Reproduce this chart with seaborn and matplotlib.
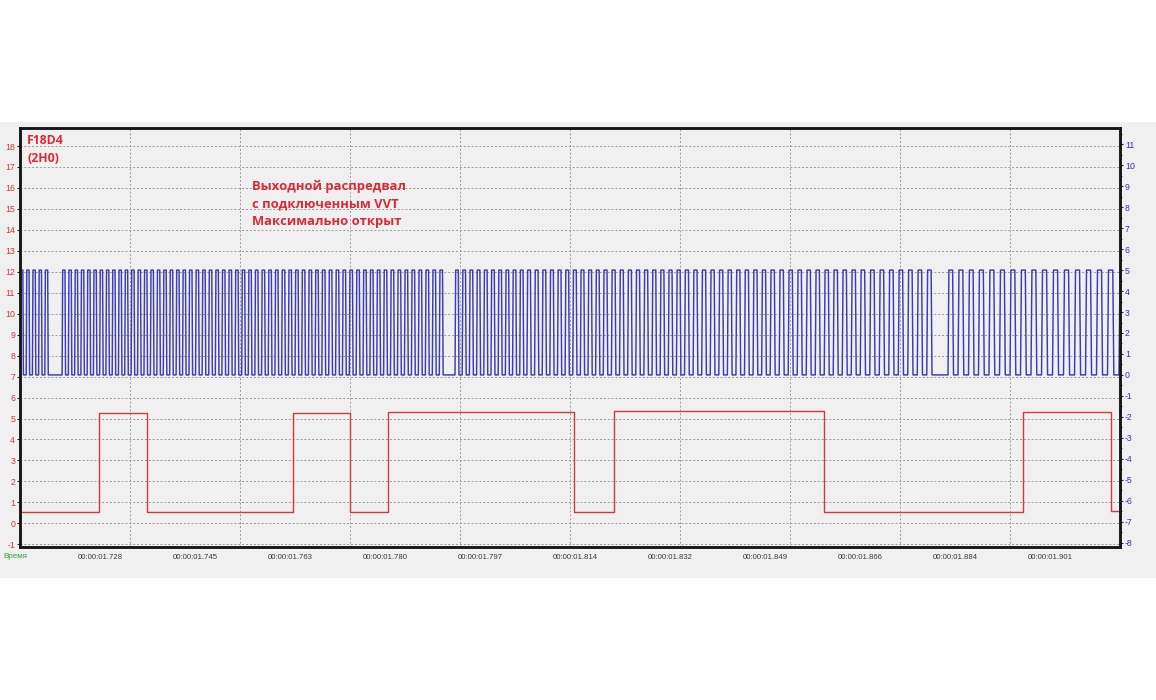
import numpy as np
import matplotlib
matplotlib.use("Agg")
import matplotlib.pyplot as plt
from matplotlib.patches import Rectangle
from matplotlib.ticker import FixedLocator
import seaborn as sns

# -------------------------------
# Data (time in ms)
# -------------------------------
x_start, x_end = 1713.43, 1913.75

tick_pos = [1728.0, 1745.3, 1762.6, 1779.9, 1797.2, 1814.5, 1831.8, 1849.1, 1866.4, 1883.7, 1901.0]
tick_labels = ["00:00:01.728", "00:00:01.745", "00:00:01.763", "00:00:01.780",
               "00:00:01.797", "00:00:01.814", "00:00:01.832", "00:00:01.849",
               "00:00:01.866", "00:00:01.884", "00:00:01.901"]

# crank signal: rising edge of every tooth, split at the missing-tooth gaps
blue_rises_1 = [1713.43, 1714.56, 1715.69, 1716.82, 1717.95]
blue_rises_2 = [1721.10, 1722.24, 1723.38, 1724.52, 1725.66, 1726.80, 1727.94, 1729.08, 1730.22, 1731.36,
                1732.50, 1733.67, 1734.84, 1736.01, 1737.18, 1738.35, 1739.52, 1740.69, 1741.86, 1743.03,
                1744.20, 1745.40, 1746.60, 1747.80, 1749.00, 1750.20, 1751.40, 1752.60, 1753.80, 1755.00,
                1756.20, 1757.42, 1758.64, 1759.86, 1761.08, 1762.30, 1763.52, 1764.74, 1765.96, 1767.18,
                1768.40, 1769.65, 1770.90, 1772.15, 1773.40, 1774.65, 1775.90, 1777.15, 1778.40, 1779.65,
                1780.90, 1782.17, 1783.44, 1784.71, 1785.98, 1787.25, 1788.52, 1789.79]
blue_rises_3 = [1792.65, 1793.96, 1795.27, 1796.58, 1797.89, 1799.20, 1800.51, 1801.82, 1803.13, 1804.44,
                1805.75, 1807.14, 1808.53, 1809.92, 1811.31, 1812.70, 1814.09, 1815.48, 1816.87, 1818.26,
                1819.65, 1821.13, 1822.61, 1824.09, 1825.57, 1827.05, 1828.53, 1830.01, 1831.49, 1832.97,
                1834.45, 1836.01, 1837.57, 1839.13, 1840.69, 1842.25, 1843.81, 1845.37, 1846.93, 1848.49,
                1850.05, 1851.69, 1853.33, 1854.97, 1856.61, 1858.25, 1859.89, 1861.53, 1863.17, 1864.81,
                1866.45, 1868.18, 1869.91, 1871.64, 1873.37, 1875.10, 1876.83, 1878.56]
blue_rises_4 = [1882.43, 1884.25, 1886.16, 1887.98, 1889.89, 1891.81, 1893.72, 1895.63, 1897.54,
                1899.46, 1901.46, 1903.46, 1905.47, 1907.47, 1909.47, 1911.47, 1913.57]
blue_low, blue_high = 0.0, 5.0

# cam signal: switching times and level of each stretch
red_edges = [1727.82, 1736.61, 1763.20, 1773.53, 1780.45, 1814.32, 1821.66, 1859.85, 1896.14, 1912.06]
red_levels = [0.55, 5.25, 0.55, 5.28, 0.55, 5.30, 0.55, 5.35, 0.55, 5.30, 0.58]

title_lines = ["F18D4", "(2H0)"]
note_lines = ["Выходной распредвал", "с подключенным VVT", "Максимально открыт"]

# -------------------------------
# Build the traces
# -------------------------------
def square_wave(rises):
    rises = np.asarray(rises)
    periods = np.diff(rises)
    periods = np.append(periods, periods[-1])
    t, v = [], []
    for r, p in zip(rises, periods):
        t += [r, r + 0.09 * p, r + 0.46 * p, r + 0.55 * p]
        v += [blue_low, blue_high, blue_high, blue_low]
    return t, v

blue_t, blue_v = [], []
for seg in [blue_rises_1, blue_rises_2, blue_rises_3, blue_rises_4]:
    t, v = square_wave(seg)
    blue_t += t
    blue_v += v

red_t, red_v = [x_start], [red_levels[0]]
for e, a, b in zip(red_edges, red_levels[:-1], red_levels[1:]):
    red_t += [e, e]
    red_v += [a, b]
red_t.append(x_end)
red_v.append(red_levels[-1])

# -------------------------------
# Figure
# -------------------------------
sns.set_style("white")
plt.rcParams["font.family"] = ["Liberation Sans", "DejaVu Sans"]
plt.rcParams["axes.unicode_minus"] = False

W, H = 1156, 700
fig = plt.figure(figsize=(W / 100, H / 100), dpi=100, facecolor="white")
fig.patches.append(Rectangle((0, 1 - 578 / H), 1, 456 / H, transform=fig.transFigure,
                             facecolor="#f0f0f0", edgecolor="none", zorder=-5))

ax = fig.add_axes([20 / W, 1 - 547 / H, 1100 / W, 419 / H])
ax.set_facecolor("#f0f0f0")
ax2 = ax.twinx()

sns.lineplot(x=red_t, y=red_v, ax=ax, color="#d03a3a", linewidth=1.0, estimator=None, sort=False)
sns.lineplot(x=blue_t, y=blue_v, ax=ax2, color="#3c3cb4", linewidth=1.05, estimator=None, sort=False)

ax.set_xlim(x_start, x_end)
ax.set_ylim(-1.13, 18.86)
ax2.set_ylim(-8.21, 11.78)

grid_style = dict(color="#9a9a9a", linewidth=0.7, linestyle=(0, (2, 2)))
for yv in range(-1, 19):
    ax.axhline(yv, zorder=0, **grid_style)
for xv in np.arange(x_start + 20.03, x_end, 20.03):
    ax.axvline(xv, zorder=0, **grid_style)

ax.set_xticks(tick_pos, tick_labels)
mids = [tick_pos[0] - 8.65] + [(a + b) / 2 for a, b in zip(tick_pos[:-1], tick_pos[1:])] + [tick_pos[-1] + 8.65]
ax.xaxis.set_minor_locator(FixedLocator(mids))
ax.tick_params(axis="x", which="major", direction="in", length=3, width=0.8,
               labelsize=5.6, labelcolor="#3a3a3a", pad=5)
ax.tick_params(axis="x", which="minor", direction="in", length=2, width=0.6)

ax.set_yticks(range(-1, 19))
ax.tick_params(axis="y", direction="out", length=2.5, width=0.8,
               labelsize=6.3, labelcolor="#d03a3a", pad=1)

ax2.set_yticks(range(-8, 12))
ax2.yaxis.set_minor_locator(FixedLocator(np.arange(-7.5, 11.6, 1.0)))
ax2.tick_params(axis="y", which="major", direction="out", length=2.5, width=0.8,
                labelsize=6.3, labelcolor="#3434b0", pad=1)
ax2.tick_params(axis="y", which="minor", direction="out", length=1.5, width=0.6)

for a in (ax, ax2):
    a.set_xlabel("")
    a.set_ylabel("")
    for s in a.spines.values():
        s.set_linewidth(1.8)
        s.set_color("#151515")

# -------------------------------
# Text
# -------------------------------
title_font = dict(family=["Open Sans", "DejaVu Sans"], fontweight="bold", fontsize=8.8, color="#dc2a35")
note_font = dict(family=["Open Sans", "DejaVu Sans"], fontweight="bold", fontsize=9.4, color="#dc2a35")
for i, line in enumerate(title_lines):
    fig.text(27 / W, 1 - (140 + 18 * i) / H, line, va="center", ha="left", **title_font)
for i, line in enumerate(note_lines):
    fig.text(252 / W, 1 - (186 + 18 * i) / H, line, va="center", ha="left", **note_font)

fig.text(3 / W, 1 - 556 / H, "Время", va="center", ha="left", fontsize=5.8, color="#3a9a3a")

plt.savefig("out.png", dpi=100, facecolor="white")
plt.close()
